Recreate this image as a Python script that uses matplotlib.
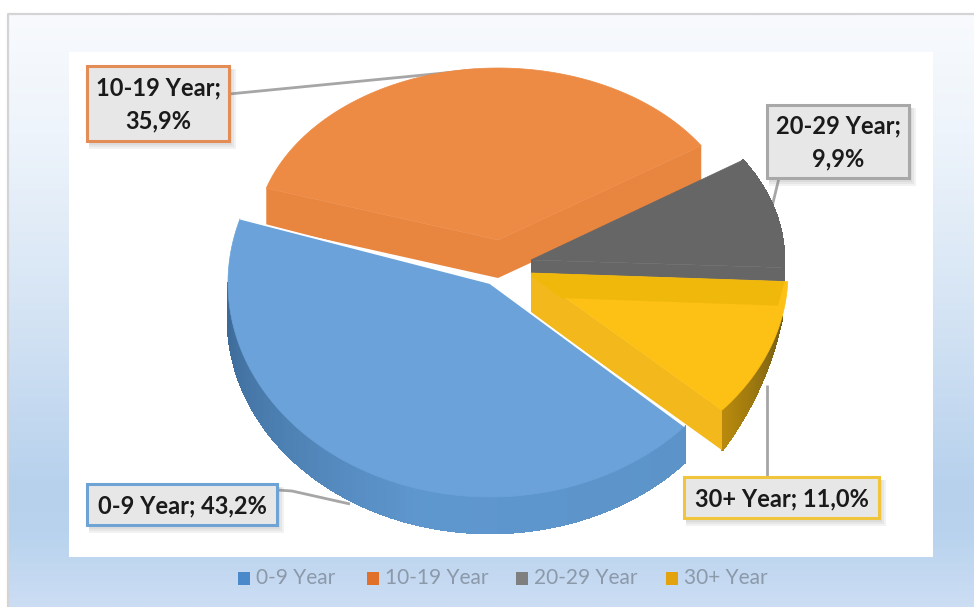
import numpy as np
import matplotlib
matplotlib.use('Agg')
import matplotlib.pyplot as plt
from matplotlib.colors import LinearSegmentedColormap, to_rgb
from matplotlib.patches import Rectangle

plt.rcParams['font.family'] = ['Lato', 'DejaVu Sans']

# shares in percent, clockwise from the lower right
categories = ['0-9 Year', '10-19 Year', '20-29 Year', '30+ Year']
shares = [43.2, 35.9, 9.9, 11.0]

start_angle = -42.0

# geometry of each exploded slice on the canvas: centre and radii of the top face
slices = {
    '0-9 Year': dict(cx=490, cy=283, rx=262, ry=214, h=36),
    '10-19 Year': dict(cx=498, cy=240, rx=243, ry=172, h=38),
    '20-29 Year': dict(cx=531, cy=260, rx=253, ry=182, h=30),
    '30+ Year': dict(cx=531, cy=273, rx=257, ry=205, h=40),
}
top_colors = {'0-9 Year': '#6aa2d9', '10-19 Year': '#ed8a44', '20-29 Year': '#666666', '30+ Year': '#fdc014'}
cut_colors = {'0-9 Year': '#5c94c9', '10-19 Year': '#e8853f', '20-29 Year': '#666666', '30+ Year': '#f2b81c'}
legend_colors = ['#4a8aca', '#e0702a', '#7f7f7f', '#e2a30f']
box_edges = ['#6fa3d6', '#e48c55', '#a8a8a8', '#f0c53c']

# angle range of every slice, going clockwise
angle_ends = start_angle - 3.6 * np.cumsum(shares)
angle_starts = np.r_[start_angle, angle_ends[:-1]]
angles = {c: (a, b) for c, a, b in zip(categories, angle_starts, angle_ends)}


def rim(s, a, b, drop=0.0, n=120):
    t = np.radians(np.linspace(a, b, n))
    x = s['cx'] + s['rx'] * np.cos(t)
    y = s['cy'] + drop - s['ry'] * np.sin(t)
    return x, y


def top_face(ax, cat):
    s = slices[cat]
    a, b = angles[cat]
    x, y = rim(s, a, b)
    ax.fill(np.r_[s['cx'], x], np.r_[s['cy'], y], fc=top_colors[cat], ec=top_colors[cat], lw=0.5, zorder=ax.z)
    ax.z += 1


def cut_face(ax, cat, angle, color=None):
    s = slices[cat]
    x, y = rim(s, angle, angle, n=1)
    xs = [s['cx'], x[0], x[0], s['cx']]
    ys = [s['cy'], y[0], y[0] + s['h'], s['cy'] + s['h']]
    ax.fill(xs, ys, color=color or cut_colors[cat], lw=0, zorder=ax.z)
    ax.z += 1


def outer_wall(ax, cat, a, b, c0, c1, taper=False, n=70):
    # outer rim as thin quads so that the shade can run along it
    s = slices[cat]
    edges = np.linspace(a, b, n + 1)
    c0, c1 = np.array(to_rgb(c0)), np.array(to_rgb(c1))
    for i in range(n):
        # a tapered wall grows from nothing to full height along the rim
        d0 = s['h'] * i / n if taper else s['h']
        d1 = s['h'] * (i + 1) / n if taper else s['h']
        xt, yt = rim(s, edges[i], edges[i + 1], n=2)
        xb = xt
        yb = yt + np.array([d0, d1])
        col = c0 + (c1 - c0) * i / (n - 1)
        ax.fill([xt[0], xt[1], xb[1], xb[0]], [yt[0], yt[1], yb[1], yb[0]],
                color=col, ec=col, lw=1.2, antialiased=False, zorder=ax.z)
    ax.z += 1


def label_box(ax, x0, y0, x1, y1, edge):
    # soft drop shadow made of stacked translucent rectangles
    for d in [7, 5, 3]:
        ax.add_patch(Rectangle((x0 + 2, y0 + 3), x1 - x0 + d - 2, y1 - y0 + d - 2,
                               fc='#808080', ec='none', alpha=0.10, zorder=30))
    ax.add_patch(Rectangle((x0, y0), x1 - x0, y1 - y0, fc='#e7e7e7', ec=edge, lw=2.2, zorder=31))


fig = plt.figure(figsize=(9.74, 6.07), dpi=100, facecolor='white')
ax = fig.add_axes([0, 0, 1, 1])
ax.axis('off')
ax.z = 5

# chart area: vertical gradient with a thin grey frame
grad = LinearSegmentedColormap.from_list('chart_bg', [
    (0.0, '#f8fafd'), (0.2, '#eef4fb'), (0.5, '#d5e4f4'), (0.8, '#b7d1ed'), (0.88, '#b9d3ee'), (1.0, '#cbddf3')])
ax.imshow(np.linspace(0, 1, 300).reshape(-1, 1), cmap=grad, aspect='auto',
          extent=[8, 974, 607, 14], zorder=1)
ax.set_xlim(0, 974)
ax.set_ylim(607, 0)
ax.plot([8, 8, 974], [607, 14, 14], color='#d4d4d6', lw=1.6, zorder=2)
ax.add_patch(Rectangle((69, 52), 864, 505, fc='white', ec='none', zorder=3))

# leader lines sit under the slices
leader = dict(color='#a6a6a6', lw=2, zorder=4, solid_capstyle='butt')
ax.plot([229, 475], [94, 70], **leader)
ax.plot([779, 770], [178, 215], **leader)
ax.plot([767, 767], [385, 477], **leader)
ax.plot([277, 292, 350], [490, 491, 504], **leader)

# 10-19 slice, seen from the front with both cut faces showing
cat = '10-19 Year'
a, b = angles[cat]
cut_face(ax, cat, a)
cut_face(ax, cat, b)
top_face(ax, cat)

# 20-29 slice
cat = '20-29 Year'
a, b = angles[cat]
outer_wall(ax, cat, a, b, '#666666', '#666666')
cut_face(ax, cat, b)
top_face(ax, cat)

# 30+ slice with the darker band of its far cut face showing through
cat = '30+ Year'
s = slices[cat]
a, b = angles[cat]
outer_wall(ax, cat, a - 10, b, '#6f5a16', '#b8890c', taper=True)
cut_face(ax, cat, b)
top_face(ax, cat)
xa, ya = rim(s, a, a, n=1)
ax.fill([s['cx'], xa[0] - 3, xa[0] - 10, s['cx'] + 30, s['cx']],
        [s['cy'], ya[0], ya[0] + 24, s['cy'] + 25, s['cy'] + 3],
        color='#f1b80c', lw=0, zorder=ax.z)
ax.z += 1

# 0-9 slice last, it is the nearest one
cat = '0-9 Year'
s = slices[cat]
a, b = angles[cat]
outer_wall(ax, cat, a, -105, '#5c94c9', '#5e97ce')
outer_wall(ax, cat, -105, -180, '#5e97ce', '#3c6997')
top_face(ax, cat)
# thin white seam along both straight edges
xa, ya = rim(s, a, a, n=1)
xb, yb = rim(s, b, b, n=1)
ax.plot([xa[0], s['cx'], xb[0]], [ya[0], s['cy'], yb[0]], color='white', lw=1.4,
        solid_capstyle='butt', zorder=ax.z)
ax.z += 1

# data labels
label_boxes = [(87, 484, 277, 525), (87, 66, 229, 141), (767, 105, 909, 178), (684, 477, 879, 518)]
two_lines = [False, True, True, False]
for cat, share, box, edge, wrap in zip(categories, shares, label_boxes, box_edges, two_lines):
    label_box(ax, *box, edge)
    value = f'{share:.1f}%'.replace('.', ',')
    txt = f'{cat};\n{value}' if wrap else f'{cat}; {value}'
    ax.text((box[0] + box[2]) / 2, (box[1] + box[3]) / 2 + 1, txt, ha='center', va='center',
            fontsize=17, fontweight='bold', color='#1a1a1a', linespacing=1.5, zorder=32)

# legend row
marker_x = [238, 367, 516, 666]
for cat, col, mx in zip(categories, legend_colors, marker_x):
    ax.add_patch(Rectangle((mx, 572), 12, 13, fc=col, ec='none', zorder=10))
    ax.text(mx + 18, 578, cat, ha='left', va='center', fontsize=15, color='#8b99a9', zorder=10)

fig.savefig('out.png', dpi=100)
